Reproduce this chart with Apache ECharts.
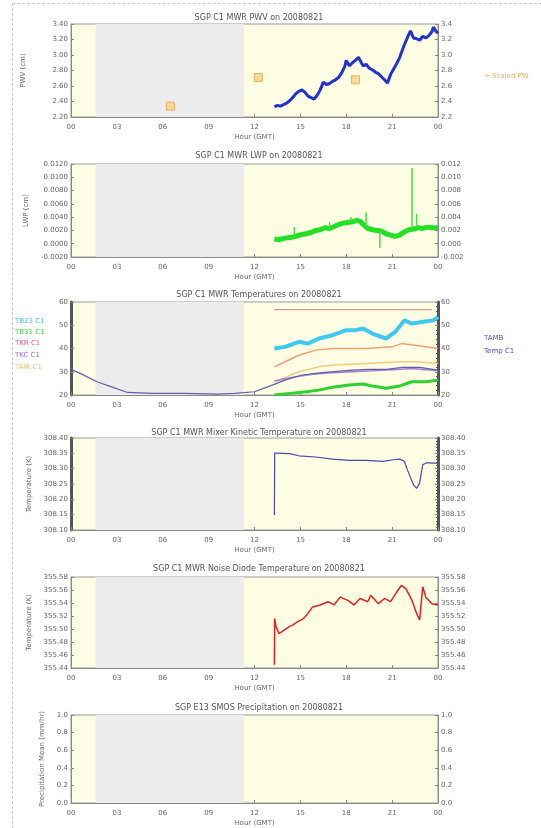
<!DOCTYPE html>
<html><head><meta charset="utf-8">
<script src="https://cdn.jsdelivr.net/npm/echarts@6/dist/echarts.min.js"></script>
<style>
html,body{margin:0;padding:0;background:#fff;}
#frame{position:absolute;left:12px;top:3px;width:529px;height:825px;border-left:1px dashed #c8c8c8;border-top:1px dashed #c8c8c8;}
#c{position:absolute;left:0;top:0;width:541px;height:828px;}
</style></head>
<body><div id="frame"></div><div id="c"></div>
<script>
// ---------- data ----------
const dateStr = '20080821';
const xTickLabels = ['00','03','06','09','12','15','18','21','00'];
const nightStart = 1.6, nightEnd = 11.3;

// Panel 1: PWV
const pwvHours  = [13.3,13.5,13.7,13.9,14.1,14.3,14.5,14.7,14.9,15.1,15.3,15.5,15.7,15.9,16.1,16.3,16.5,16.7,16.9,17.1,17.3,17.5,17.7,17.9,18.0,18.2,18.4,18.6,18.8,18.9,19.1,19.3,19.5,19.7,19.9,20.1,20.3,20.5,20.7,20.9,21.1,21.3,21.5,21.7,21.9,22.1,22.2,22.4,22.6,22.8,23.0,23.2,23.4,23.6,23.7,23.85,24.0];
const pwvValues = [2.33,2.35,2.34,2.36,2.38,2.41,2.45,2.50,2.53,2.55,2.52,2.47,2.45,2.43,2.48,2.55,2.65,2.62,2.63,2.66,2.68,2.71,2.77,2.85,2.93,2.86,2.90,2.93,2.97,2.99,2.86,2.88,2.83,2.81,2.78,2.76,2.72,2.68,2.64,2.75,2.82,2.89,2.97,3.08,3.18,3.27,3.31,3.22,3.21,3.19,3.24,3.22,3.25,3.30,3.36,3.31,3.28];
const scaledPwHours  = [6.5, 12.25, 18.6];
const scaledPwValues = [2.34, 2.71, 2.68];
const pwvTicksLeft  = ['2.20','2.40','2.60','2.80','3.00','3.20','3.40'];
const pwvTicksRight = ['2.2','2.4','2.6','2.8','3.0','3.2','3.4'];

// Panel 2: LWP
const lwpHours  = [13.3,13.6,13.9,14.2,14.5,14.8,15.1,15.4,15.7,16.0,16.3,16.6,16.9,17.2,17.5,17.8,18.1,18.4,18.7,18.9,19.1,19.4,19.7,20.0,20.3,20.6,20.9,21.2,21.5,21.8,22.1,22.4,22.7,23.0,23.3,23.6,24.0];
const lwpValues = [0.0007,0.0006,0.0008,0.0009,0.0010,0.0012,0.0014,0.0015,0.0017,0.0020,0.0021,0.0024,0.0023,0.0026,0.0029,0.0031,0.0032,0.0033,0.0035,0.0034,0.0029,0.0023,0.0021,0.0020,0.0019,0.0015,0.0013,0.0011,0.0013,0.0018,0.0021,0.0022,0.0024,0.0023,0.0025,0.0024,0.0024];
const lwpSpikeHours = [14.6, 16.9, 18.3, 19.3, 20.2, 22.3, 22.6];
const lwpSpikeBases = [0.0010, 0.0023, 0.0032, 0.0027, 0.0019, 0.0022, 0.0024];
const lwpSpikeTops  = [0.0025, 0.0032, 0.0040, 0.0047, -0.0006, 0.0114, 0.0045];
const lwpTicksLeft  = ['-0.0020','0.0000','0.0020','0.0040','0.0060','0.0080','0.0100','0.0120'];
const lwpTicksRight = ['-0.002','0.000','0.002','0.004','0.006','0.008','0.010','0.012'];

// Panel 3: Temperatures
const tempTicks = ['20','30','40','50','60'];
const tb23Hours  = [13.3,14.0,14.9,15.5,16.2,17.1,18.0,18.6,19.1,19.7,20.6,21.2,21.8,22.3,22.9,23.7,24.0];
const tb23Values = [40.0,40.7,42.9,42.1,44.3,45.7,47.9,47.9,48.6,46.4,44.3,47.1,52.1,50.7,51.4,52.1,53.6];
const tb31Hours  = [13.3,14.3,15.4,16.2,17.1,18.2,19.1,19.7,20.6,21.5,22.3,23.2,24.0];
const tb31Values = [20.0,20.7,21.4,22.1,23.3,24.3,24.7,23.9,22.9,23.9,25.7,25.7,26.4];
const tkrHours   = [13.3,23.6];
const tkrValues  = [56.7,56.7];
const tkcHours   = [13.3,14.5,15.8,17.1,18.4,19.7,21.0,22.3,23.2,24.0];
const tkcValues  = [26.0,27.6,28.9,29.6,30.0,30.4,30.9,31.4,30.9,30.4];
const tairHours  = [13.3,14.0,14.9,16.0,17.1,19.3,21.0,21.6,22.5,24.0];
const tairValues = [32.1,34.3,37.1,39.3,40.0,40.0,40.7,42.1,41.4,40.0];
const tbbHours   = [13.3,14.9,16.2,17.1,19.3,21.5,22.5,24.0];
const tbbValues  = [25.7,30.0,32.1,32.9,33.6,34.3,34.3,33.6];
const tambHours  = [0.0,0.6,1.7,2.6,3.7,5.3,7.4,9.6,10.7,12.0,12.9,14.0,15.1,16.4,18.4,19.5,20.6,21.7,22.8,24.0];
const tambValues = [31.0,29.3,25.7,23.6,21.1,20.7,20.7,20.4,20.7,21.4,23.6,26.4,28.6,29.6,30.7,31.0,31.0,31.9,31.9,30.7];

// Panel 4: Mixer kinetic temperature
const mixHours  = [13.3,13.32,13.5,14.3,14.9,16.0,17.1,18.2,19.3,20.4,21.1,21.5,21.8,22.0,22.4,22.6,22.8,23.0,23.3,23.6,24.0];
const mixValues = [308.149,308.351,308.351,308.349,308.342,308.338,308.331,308.327,308.327,308.324,308.329,308.331,308.324,308.296,308.247,308.236,308.253,308.313,308.320,308.318,308.318];
const mixTicks  = ['308.10','308.15','308.20','308.25','308.30','308.35','308.40'];

// Panel 5: Noise diode temperature
const ndHours  = [13.3,13.32,13.4,13.6,13.8,14.3,14.5,14.8,15.2,15.4,15.8,16.3,16.8,17.2,17.6,18.1,18.5,18.9,19.4,19.6,20.1,20.5,20.9,21.3,21.6,21.9,22.3,22.6,22.8,23.0,23.2,23.6,24.0];
const ndValues = [355.445,355.516,355.504,355.493,355.496,355.504,355.506,355.511,355.516,355.521,355.534,355.537,355.542,355.537,355.549,355.544,355.537,355.547,355.542,355.552,355.539,355.547,355.542,355.557,355.567,355.562,355.544,355.524,355.514,355.565,355.549,355.539,355.537];
const ndTicks  = ['355.44','355.46','355.48','355.50','355.52','355.54','355.56','355.58'];

// Panel 6: Precipitation (no data)
const precTicks = ['0.0','0.2','0.4','0.6','0.8','1.0'];

// ---------- layout ----------
const gridTops = [24, 164, 302, 438, 577, 715];
const gridHeights = [93, 93, 93, 92, 91, 93];
const titles = [
  'SGP C1 MWR PWV on ' + dateStr,
  'SGP C1 MWR LWP on ' + dateStr,
  'SGP C1 MWR Temperatures on ' + dateStr,
  'SGP C1 MWR Mixer Kinetic Temperature on ' + dateStr,
  'SGP C1 MWR Noise Diode Temperature on ' + dateStr,
  'SGP E13 SMOS Precipitation on ' + dateStr
];
const titleY = [9, 147, 286, 424, 560, 699];
const yCfg = [
  {min:2.2, max:3.4, interval:0.2, left:pwvTicksLeft, right:pwvTicksRight, name:'PWV (cm)', gap:44, thick:false},
  {min:-0.002, max:0.012, interval:0.002, left:lwpTicksLeft, right:lwpTicksRight, name:'LWP (cm)', gap:40, thick:false},
  {min:20, max:60, interval:10, left:tempTicks, right:tempTicks, name:'', gap:30, thick:true},
  {min:308.10, max:308.40, interval:0.05, left:mixTicks, right:mixTicks, name:'Temperature (K)', gap:33, thick:true},
  {min:355.44, max:355.58, interval:0.02, left:ndTicks, right:ndTicks, name:'Temperature (K)', gap:33, thick:false},
  {min:0, max:1, interval:0.2, left:precTicks, right:precTicks, name:'Precipitation Mean (mm/hr)', gap:24, thick:false}
];

const txt = '#666';
const font = 'DejaVu Sans';
const pairs = (h, v) => h.map((x, i) => [x, v[i]]);

const grids = [], xAxes = [], yAxes = [], series = [], titleArr = [];
for (let i = 0; i < 6; i++) {
  grids.push({left:71, width:367, top:gridTops[i], height:gridHeights[i], show:true,
    backgroundColor:'#fdfde4', borderColor:'#999', borderWidth:1});
  titleArr.push({text:titles[i], left:254, top:titleY[i], textAlign:'center',
    textStyle:{fontSize:8, fontWeight:'normal', color:'#555', fontFamily:font}});
  xAxes.push({type:'value', gridIndex:i, min:0, max:24, interval:3,
    name:'Hour (GMT)', nameLocation:'middle', nameGap:17,
    nameTextStyle:{fontSize:7, color:txt, fontFamily:font},
    axisLine:{onZero:false, lineStyle:{color:'#888'}}, splitLine:{show:false},
    axisTick:{inside:true, length:3, lineStyle:{color:'#888'}},
    axisLabel:{fontSize:7, color:txt, fontFamily:font, margin:7,
      formatter:(v)=>xTickLabels[Math.round(v/3)]}});
  const c = yCfg[i];
  const idxFmt = (arr) => (v)=>arr[Math.round((v - c.min)/c.interval)] || '';
  const axLine = {show:true, onZero:false, lineStyle:{color:c.thick?'#555':'#888', width:c.thick?3:1}};
  yAxes.push({type:'value', gridIndex:i, position:'left', min:c.min, max:c.max, interval:c.interval,
    name:c.name, nameLocation:'middle', nameRotate:90, nameGap:c.gap,
    nameTextStyle:{fontSize:7, color:txt, fontFamily:font},
    axisLine:axLine, splitLine:{show:false},
    axisTick:{show:true, inside:true, length:3, lineStyle:{color:'#888'}},
    minorTick:{show:c.thick, splitNumber:5, length:2},
    axisLabel:{fontSize:7, color:txt, fontFamily:font, margin:3, formatter:idxFmt(c.left)}});
  yAxes.push({type:'value', gridIndex:i, position:'right', min:c.min, max:c.max, interval:c.interval,
    axisLine:axLine, splitLine:{show:false},
    axisTick:{show:true, inside:true, length:3, lineStyle:{color:'#888'}},
    minorTick:{show:c.thick, splitNumber:5, length:2},
    axisLabel:{fontSize:7, color:txt, fontFamily:font, margin:3, formatter:idxFmt(c.right)}});
  series.push({type:'line', xAxisIndex:i, yAxisIndex:2*i, data:[], silent:true, z:0,
    markArea:{silent:true, itemStyle:{color:'#ececec'}, data:[[{xAxis:nightStart},{xAxis:nightEnd}]]}});
}

// Panel 1
series.push({type:'line', xAxisIndex:0, yAxisIndex:0, data:pairs(pwvHours,pwvValues), showSymbol:false,
  lineStyle:{color:'#2233cc', width:3}});
series.push({type:'scatter', xAxisIndex:0, yAxisIndex:0, data:pairs(scaledPwHours,scaledPwValues), symbol:'rect', symbolSize:8,
  itemStyle:{color:'#f6d28a', borderColor:'#e6a040', borderWidth:1}});
// Panel 2
series.push({type:'line', xAxisIndex:1, yAxisIndex:2, data:pairs(lwpHours,lwpValues), showSymbol:false,
  lineStyle:{color:'#22e022', width:5}});
const spikeData = [];
lwpSpikeHours.forEach((h, i) => { spikeData.push([h, lwpSpikeBases[i]], [h, lwpSpikeTops[i]], [h, lwpSpikeBases[i]], [h, null]); });
series.push({type:'line', xAxisIndex:1, yAxisIndex:2, data:spikeData, showSymbol:false, connectNulls:false,
  lineStyle:{color:'#44dd44', width:1}});
// Panel 3
const t3 = [
  [tkrHours, tkrValues, '#d08080', 1],
  [tb23Hours, tb23Values, '#40c8ee', 4],
  [tairHours, tairValues, '#f0a070', 1.5],
  [tbbHours, tbbValues, '#f0cc80', 1.5],
  [tkcHours, tkcValues, '#a080d8', 1.5],
  [tambHours, tambValues, '#6060a8', 1.2],
  [tb31Hours, tb31Values, '#30d030', 3]
];
t3.forEach(([h, v, col, w]) => series.push({type:'line', xAxisIndex:2, yAxisIndex:4, data:pairs(h, v), showSymbol:false,
  lineStyle:{color:col, width:w}}));
// Panel 4
series.push({type:'line', xAxisIndex:3, yAxisIndex:6, data:pairs(mixHours,mixValues), showSymbol:false,
  lineStyle:{color:'#4a4aa8', width:1.2}});
// Panel 5
series.push({type:'line', xAxisIndex:4, yAxisIndex:8, data:pairs(ndHours,ndValues), showSymbol:false,
  lineStyle:{color:'#e02020', width:1.5}});

const legendText = (x, y, t, col) => ({type:'text', left:x, top:y, style:{text:t, fill:col, fontSize:7, fontFamily:font}});
const graphic = [
  legendText(484, 73, '+ Scaled PW', '#f0b060'),
  legendText(15, 318, 'TB23 C1', '#40c0ee'),
  legendText(15, 329, 'TB31 C1', '#40d040'),
  legendText(15, 340, 'TKR C1', '#e06080'),
  legendText(15, 352, 'TKC C1', '#a070e0'),
  legendText(15, 364, 'TAIR C1', '#f0c080'),
  legendText(484, 335, 'TAMB', '#5050c0'),
  legendText(484, 348, 'Temp C1', '#5050c0')
];

const chart = echarts.init(document.getElementById('c'), null, {renderer:'canvas'});
chart.setOption({animation:false, title:titleArr, grid:grids, xAxis:xAxes, yAxis:yAxes, series:series, graphic:graphic});
</script>
</body></html>
